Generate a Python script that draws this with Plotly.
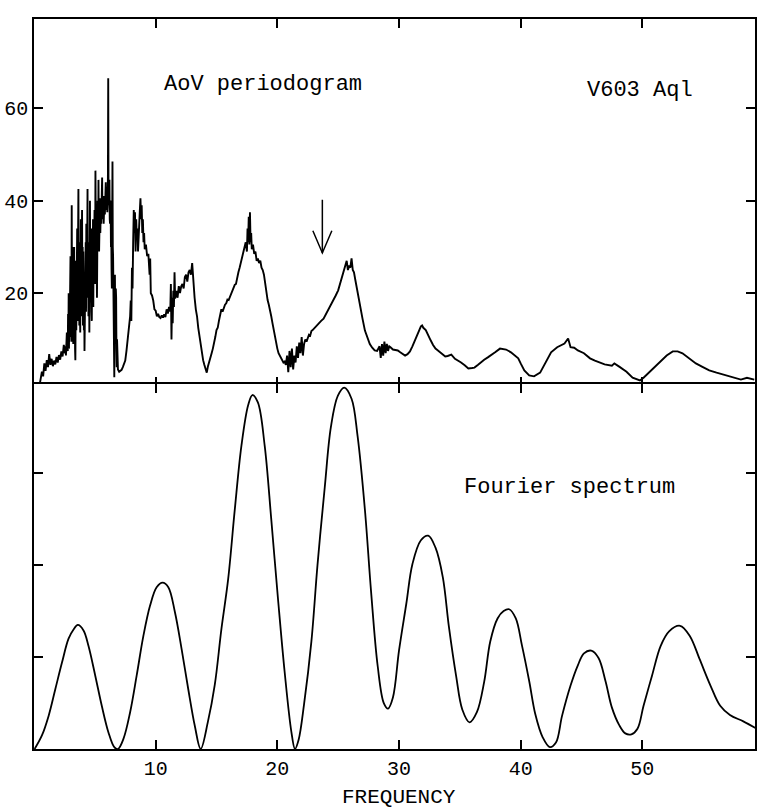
import plotly.graph_objects as go
from plotly.subplots import make_subplots

# ---------------- data ----------------
# AoV periodogram: (frequency, statistic)
aov_periodogram = [
    (0.45, 0.0), (0.55, 1.5), (0.65, 3.0), (0.75, 2.0), (0.85, 4.8), (0.95, 3.2),
    (1.05, 5.5), (1.15, 4.0), (1.25, 6.8), (1.35, 4.5), (1.45, 5.8), (1.55, 4.2),
    (1.65, 5.4), (1.75, 4.6), (1.85, 6.2), (1.95, 5.0), (2.05, 6.6), (2.15, 5.6),
    (2.25, 7.4), (2.35, 6.3), (2.45, 8.8), (2.55, 7.0),
    (2.600, 8.5), (2.625, 6.5), (2.650, 9.8), (2.675, 7.2), (2.700, 11.5), (2.725, 8.0),
    (2.750, 13.0), (2.775, 7.5), (2.800, 15.5), (2.825, 9.0), (2.850, 20.0), (2.875, 8.0),
    (2.900, 18.5), (2.925, 10.5), (2.950, 24.0), (2.975, 11.0), (3.000, 28.0), (3.025, 13.0),
    (3.050, 22.0), (3.075, 9.5), (3.100, 39.0), (3.125, 16.0), (3.150, 30.0), (3.175, 12.0),
    (3.200, 25.0), (3.225, 9.0), (3.250, 20.0), (3.275, 14.5), (3.300, 30.0), (3.325, 12.0),
    (3.350, 24.0), (3.375, 8.0), (3.400, 5.5), (3.425, 18.0), (3.450, 27.0), (3.475, 12.0),
    (3.500, 22.0), (3.525, 15.0), (3.550, 34.0), (3.575, 14.0), (3.600, 28.0), (3.625, 18.0),
    (3.650, 42.5), (3.675, 20.0), (3.700, 31.0), (3.725, 13.0), (3.750, 30.0), (3.775, 17.0),
    (3.800, 11.5), (3.825, 25.0), (3.850, 36.0), (3.875, 15.0), (3.900, 27.0), (3.925, 21.0),
    (3.950, 38.0), (3.975, 19.0), (4.000, 30.0), (4.025, 13.0), (4.050, 29.0), (4.075, 22.0),
    (4.100, 12.0), (4.125, 20.0), (4.150, 7.5), (4.175, 18.0), (4.200, 26.0), (4.225, 14.0),
    (4.250, 31.0), (4.275, 16.0), (4.300, 35.0), (4.325, 22.0), (4.350, 19.0), (4.375, 33.0),
    (4.400, 42.5), (4.425, 20.0), (4.450, 28.0), (4.475, 15.0), (4.500, 31.0), (4.525, 24.0),
    (4.550, 11.5), (4.575, 27.0), (4.600, 40.0), (4.625, 18.0), (4.650, 30.0), (4.675, 23.0),
    (4.700, 34.0), (4.725, 16.0), (4.750, 14.0), (4.775, 26.0), (4.800, 31.0), (4.825, 20.0),
    (4.850, 36.0), (4.875, 17.0), (4.900, 33.0), (4.925, 24.0), (4.950, 28.0), (4.975, 38.0),
    (5.000, 31.0), (5.025, 22.0), (5.050, 46.5), (5.075, 27.0), (5.100, 24.0), (5.125, 38.0),
    (5.150, 33.0), (5.175, 19.0), (5.200, 28.0), (5.225, 40.0), (5.250, 36.0), (5.275, 30.0),
    (5.300, 44.5), (5.325, 34.0), (5.350, 29.0), (5.375, 39.0), (5.400, 36.0), (5.425, 40.5),
    (5.450, 33.0), (5.475, 38.0), (5.500, 40.0), (5.525, 35.0), (5.550, 37.0), (5.575, 42.0),
    (5.600, 45.0), (5.625, 36.0), (5.650, 38.5), (5.675, 41.0), (5.700, 39.5), (5.725, 35.0),
    (5.750, 37.0), (5.775, 40.5), (5.800, 41.0), (5.825, 37.0), (5.850, 39.0), (5.875, 42.0),
    (5.900, 44.0), (5.925, 38.0), (5.950, 40.0), (5.975, 43.0), (6.000, 41.5), (6.025, 37.5),
    (6.050, 39.0), (6.075, 45.0), (6.100, 66.5), (6.125, 42.0), (6.150, 39.0), (6.175, 41.0),
    (6.200, 44.5), (6.225, 36.0), (6.250, 35.0), (6.275, 40.0), (6.300, 39.0), (6.325, 30.0),
    (6.350, 33.0), (6.375, 25.0), (6.400, 21.0), (6.425, 35.0), (6.450, 48.5), (6.475, 30.0),
    (6.500, 28.0), (6.525, 16.0), (6.550, 12.0), (6.575, 5.0), (6.600, 1.8), (6.625, 14.0),
    (6.650, 24.0), (6.675, 15.0), (6.700, 10.0), (6.725, 21.0), (6.750, 19.0), (6.775, 8.0),
    (6.800, 4.0), (6.825, 10.0), (6.850, 8.5), (6.875, 5.0), (6.900, 3.5),
    (7.00, 3.0), (7.10, 3.2), (7.20, 3.4),
    (7.30, 4.0), (7.40, 5.0), (7.50, 5.4), (7.60, 7.5), (7.70, 10.5), (7.80, 12.6),
    (7.90, 15.0), (7.95, 18.4), (8.00, 14.0), (8.05, 25.5), (8.10, 21.0), (8.15, 31.0),
    (8.20, 38.0), (8.25, 33.0), (8.30, 37.5), (8.35, 29.0), (8.40, 36.0), (8.45, 32.0),
    (8.50, 34.0), (8.55, 29.0), (8.60, 31.0), (8.65, 35.0), (8.70, 38.0), (8.75, 40.5),
    (8.80, 36.0), (8.85, 39.0), (8.90, 33.0), (8.95, 36.0), (9.00, 31.0), (9.05, 33.0),
    (9.10, 29.5), (9.20, 30.5), (9.30, 28.0), (9.40, 28.5), (9.50, 24.0), (9.55, 27.5),
    (9.60, 20.0), (9.70, 19.5), (9.80, 18.4), (9.90, 16.5), (10.0, 16.2), (10.1, 15.0),
    (10.2, 15.5), (10.3, 14.8), (10.4, 14.6), (10.5, 15.2), (10.6, 14.7), (10.7, 15.4),
    (10.8, 14.8), (10.9, 16.5), (11.0, 15.6), (11.1, 17.0), (11.2, 16.0), (11.25, 22.0),
    (11.3, 10.0), (11.35, 19.0), (11.4, 13.5), (11.45, 20.5), (11.5, 17.0), (11.55, 24.5),
    (11.6, 18.8), (11.7, 20.5), (11.8, 19.0), (11.9, 21.5), (12.0, 20.0), (12.1, 21.5),
    (12.2, 22.0), (12.3, 21.0), (12.4, 23.5), (12.5, 24.0), (12.6, 22.5), (12.7, 24.5),
    (12.8, 25.0), (12.9, 24.0), (13.0, 26.5), (13.05, 24.0), (13.1, 22.0), (13.2, 19.0),
    (13.3, 16.5), (13.4, 15.0), (13.5, 12.5), (13.6, 10.5), (13.7, 9.0), (13.8, 7.0),
    (13.9, 5.5), (14.0, 4.5), (14.1, 3.5), (14.2, 2.8), (14.3, 4.2), (14.4, 5.0),
    (14.5, 5.8), (14.6, 7.0), (14.7, 8.0), (14.8, 9.0), (14.9, 10.5), (15.0, 12.0),
    (15.1, 12.5), (15.2, 14.0), (15.3, 15.2), (15.4, 16.5), (15.5, 16.0), (15.6, 17.0),
    (15.7, 17.5), (15.8, 17.8), (15.9, 18.6), (16.0, 18.5), (16.1, 19.2), (16.2, 19.8),
    (16.3, 20.5), (16.4, 21.0), (16.5, 21.8), (16.6, 22.0), (16.7, 23.5), (16.8, 24.5),
    (16.9, 25.5), (17.0, 26.5), (17.1, 28.0), (17.2, 29.0), (17.3, 30.0), (17.4, 31.0),
    (17.5, 29.0), (17.55, 34.0), (17.6, 31.0), (17.65, 36.5), (17.7, 30.5), (17.75, 37.5),
    (17.8, 31.0), (17.85, 33.0), (17.9, 29.5), (18.0, 30.5), (18.1, 28.5), (18.2, 29.0),
    (18.3, 27.0), (18.4, 27.5), (18.5, 26.5), (18.6, 27.0), (18.7, 25.5), (18.8, 25.0),
    (18.9, 24.0), (19.0, 22.0), (19.1, 20.0), (19.2, 18.5), (19.3, 17.5), (19.4, 16.5),
    (19.5, 15.0), (19.6, 13.5), (19.7, 12.0), (19.8, 10.5), (19.9, 9.0), (20.0, 8.0),
    (20.1, 7.0), (20.2, 6.5), (20.3, 6.0), (20.4, 5.5), (20.5, 5.0), (20.6, 5.2),
    (20.7, 4.5), (20.8, 6.5), (20.9, 2.9), (21.0, 7.5), (21.1, 4.0), (21.2, 8.0),
    (21.3, 3.5), (21.4, 6.5), (21.5, 5.0), (21.6, 8.5), (21.7, 6.0), (21.8, 9.3),
    (21.9, 7.0), (22.0, 10.5), (22.1, 6.5), (22.2, 9.0), (22.3, 10.0), (22.4, 9.5),
    (22.5, 10.5), (22.6, 11.0), (22.7, 10.8), (22.8, 11.8), (22.9, 12.0), (23.0, 12.3),
    (23.2, 13.0), (23.4, 13.4), (23.6, 14.0), (23.8, 14.5), (24.0, 15.5), (24.2, 16.3),
    (24.4, 17.2), (24.6, 18.4), (24.8, 19.5), (25.0, 20.6), (25.2, 22.5), (25.4, 24.2),
    (25.5, 25.5), (25.6, 26.0), (25.7, 27.0), (25.8, 25.0), (25.9, 26.0), (26.0, 25.5),
    (26.1, 27.5), (26.2, 25.0), (26.3, 24.5), (26.4, 23.0), (26.5, 21.5), (26.6, 19.9),
    (26.8, 17.0), (27.0, 14.5), (27.2, 11.9), (27.4, 10.2), (27.6, 9.0), (27.8, 8.2),
    (28.0, 7.6), (28.2, 7.5), (28.4, 8.5), (28.5, 6.0), (28.6, 9.0), (28.7, 6.5),
    (28.8, 9.5), (28.9, 7.0), (29.0, 9.0), (29.1, 7.5), (29.2, 8.5), (29.3, 8.3),
    (29.5, 7.8), (29.7, 7.7), (29.9, 7.6), (30.1, 7.2), (30.3, 6.8), (30.5, 6.5),
    (30.7, 6.8), (30.9, 7.4), (31.1, 8.5), (31.3, 9.8), (31.5, 11.0), (31.7, 12.0),
    (31.8, 12.8), (31.9, 13.0), (32.0, 12.5), (32.2, 12.0), (32.4, 10.8), (32.6, 9.8),
    (32.8, 8.8), (33.0, 8.0), (33.2, 7.6), (33.4, 7.2), (33.6, 6.8), (33.8, 6.3),
    (34.0, 6.4), (34.3, 6.7), (34.6, 5.8), (34.9, 5.4), (35.1, 5.0), (35.4, 4.4),
    (35.7, 3.7), (36.0, 3.8), (36.2, 3.9), (36.5, 4.5), (36.7, 5.0), (37.0, 5.6),
    (37.3, 6.1), (37.6, 6.6), (37.9, 7.2), (38.3, 8.0), (38.8, 7.8), (39.2, 7.2),
    (39.5, 6.6), (39.8, 5.9), (40.0, 4.8), (40.3, 3.3), (40.7, 2.2), (41.1, 2.0),
    (41.6, 2.8), (42.0, 4.8), (42.5, 7.2), (43.0, 8.3), (43.6, 9.1), (43.9, 10.2),
    (44.1, 8.3), (44.4, 8.2), (44.7, 7.6), (45.2, 7.0), (45.7, 5.9), (46.1, 5.4),
    (46.5, 5.0), (46.9, 4.6), (47.5, 4.3), (47.7, 4.8), (48.1, 4.1), (48.7, 3.0),
    (49.2, 1.7), (49.8, 1.1), (50.1, 1.7), (50.6, 3.0), (51.1, 4.3), (51.6, 5.4),
    (52.0, 6.5), (52.5, 7.4), (52.9, 7.4), (53.3, 7.0), (53.9, 5.9), (54.4, 4.8),
    (54.9, 4.1), (55.5, 3.3), (56.1, 2.8), (56.9, 2.2), (57.5, 1.7), (58.1, 1.3),
    (58.6, 1.7), (59.2, 1.3),
]

# Fourier spectrum: (frequency, amplitude in tick units)
fourier_spectrum = [
    (0.05, 0.0), (0.66, 0.15), (1.2, 0.36), (1.75, 0.65), (2.3, 0.94), (2.84, 1.2),
    (3.25, 1.30), (3.6, 1.35), (4.07, 1.29), (4.48, 1.12), (5.03, 0.80), (5.57, 0.47),
    (6.12, 0.18), (6.6, 0.02), (6.9, 0.0), (7.35, 0.11), (7.9, 0.40), (8.44, 0.80),
    (8.99, 1.23), (9.54, 1.56), (10.08, 1.76), (10.57, 1.81), (11.04, 1.76), (11.58, 1.49),
    (12.13, 1.09), (12.68, 0.65), (13.22, 0.25), (13.7, 0.0), (14.3, 0.30), (14.86, 0.70),
    (15.4, 1.30), (15.96, 1.85), (16.5, 2.6), (17.05, 3.3), (17.6, 3.74), (17.95, 3.85),
    (18.4, 3.77), (18.96, 3.3), (19.5, 2.5), (20.05, 1.64), (20.6, 0.84), (21.15, 0.19),
    (21.45, 0.0), (21.75, 0.1), (22.2, 0.49), (22.8, 1.17), (23.3, 2.0), (23.9, 2.85),
    (24.4, 3.5), (24.97, 3.84), (25.5, 3.93), (26.1, 3.81), (26.6, 3.4), (27.2, 2.6),
    (27.7, 1.72), (28.25, 0.9), (28.75, 0.5), (29.1, 0.44), (29.5, 0.56), (30.0, 1.07),
    (30.6, 1.58), (31.1, 2.01), (31.8, 2.27), (32.4, 2.32), (33.0, 2.19), (33.6, 1.87),
    (34.1, 1.33), (34.7, 0.79), (35.2, 0.43), (35.8, 0.29), (36.4, 0.40), (37.0, 0.73),
    (37.5, 1.17), (38.1, 1.42), (38.6, 1.50), (39.05, 1.52), (39.6, 1.42), (40.1, 1.13),
    (40.7, 0.74), (41.2, 0.38), (41.8, 0.13), (42.4, 0.02), (42.9, 0.07), (43.4, 0.36),
    (44.1, 0.69), (44.7, 0.91), (45.2, 1.04), (45.8, 1.07), (46.4, 0.99), (46.97, 0.74),
    (47.5, 0.45), (48.1, 0.26), (48.6, 0.17), (49.1, 0.16), (49.6, 0.22), (50.1, 0.47),
    (50.8, 0.80), (51.5, 1.12), (52.2, 1.28), (53.1, 1.34), (53.9, 1.23), (54.7, 0.98),
    (55.6, 0.69), (56.4, 0.47), (57.2, 0.37), (58.3, 0.30), (59.4, 0.22),
]

freq_ticks = [10, 20, 30, 40, 50]
aov_ticks = [20, 40, 60]
fourier_ticks = [1, 2, 3]

aov_freq = [p[0] for p in aov_periodogram]
aov_power = [p[1] for p in aov_periodogram]
four_freq = [p[0] for p in fourier_spectrum]
four_amp = [p[1] for p in fourier_spectrum]

FONT = "Liberation Mono"
LINE_W = 1.6

fig = make_subplots(rows=2, cols=1, shared_xaxes=True, vertical_spacing=0)

fig.add_trace(go.Scatter(x=aov_freq, y=aov_power, mode="lines",
                         line=dict(color="black", width=1.9), showlegend=False),
              row=1, col=1)
fig.add_trace(go.Scatter(x=four_freq, y=four_amp, mode="lines",
                         line=dict(color="black", width=1.8, shape="spline", smoothing=1.0),
                         showlegend=False),
              row=2, col=1)

axis_common = dict(showline=True, linecolor="black", linewidth=LINE_W, mirror="ticks",
                   ticks="inside", tickcolor="black", tickwidth=1.5, ticklen=9,
                   showgrid=False, zeroline=False,
                   tickfont=dict(family=FONT, size=20, color="black"))

fig.update_xaxes(range=[0, 59.26], tickvals=freq_ticks, **axis_common)
fig.update_xaxes(showticklabels=False, row=1, col=1)
fig.update_xaxes(showticklabels=True, ticktext=[str(v) for v in freq_ticks], row=2, col=1)
# top panel's domain overlaps by one line width so the shared middle line is single
overlap = LINE_W / 730
fig.update_yaxes(range=[0, 79.3], tickvals=aov_ticks, domain=[0.5 - overlap, 1],
                 row=1, col=1, **axis_common)
fig.update_yaxes(range=[0, 3.97], tickvals=fourier_ticks, showticklabels=False,
                 domain=[0, 0.5], row=2, col=1, **axis_common)

# arrow above the AoV curve (open V head)
ax_f, ax_top, ax_tip, ax_arm, ax_hw = 23.7, 40.2, 28.7, 33.5, 0.78
fig.add_shape(type="line", x0=ax_f, x1=ax_f, y0=ax_top, y1=ax_tip, xref="x", yref="y",
              line=dict(color="black", width=1.5))
fig.add_shape(type="path", xref="x", yref="y",
              path=f"M {ax_f-ax_hw},{ax_arm} L {ax_f},{ax_tip} L {ax_f+ax_hw},{ax_arm}",
              line=dict(color="black", width=1.5))

ann_font = dict(family=FONT, size=22, color="black")
fig.add_annotation(x=10.5, y=65.2, xref="x", yref="y", text="AoV periodogram",
                   showarrow=False, xanchor="left", yanchor="middle", font=ann_font)
fig.add_annotation(x=45.3, y=63.9, xref="x", yref="y", text="V603 Aql",
                   showarrow=False, xanchor="left", yanchor="middle", font=ann_font)
fig.add_annotation(x=35.2, y=2.84, xref="x2", yref="y2", text="Fourier spectrum",
                   showarrow=False, xanchor="left", yanchor="middle", font=ann_font)
fig.add_annotation(x=0.506, y=-0.0658, xref="paper", yref="paper", text="FREQUENCY",
                   showarrow=False, xanchor="center", yanchor="middle",
                   font=dict(family=FONT, size=21, color="black"))

fig.update_layout(width=757, height=809, margin=dict(l=34, r=0, t=19, b=60),
                  paper_bgcolor="white", plot_bgcolor="white", showlegend=False)

fig.write_html("out.html", config={"displayModeBar": False},
               post_script="document.body.style.margin='0';"
                           "document.body.style.overflow='hidden';")
